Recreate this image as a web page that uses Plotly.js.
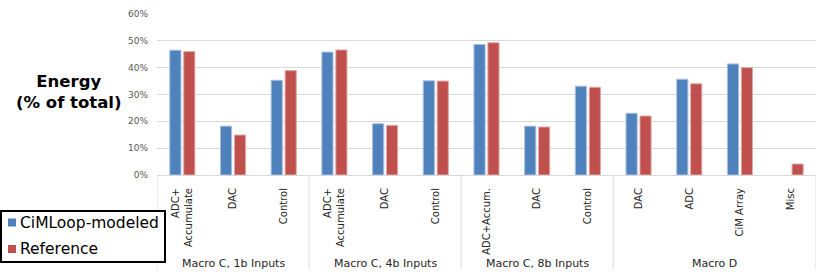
<!DOCTYPE html>
<html><head><meta charset="utf-8">
<script src="https://cdn.plot.ly/plotly-3.0.1.min.js"></script>
<style>html,body{margin:0;padding:0;background:#fff;overflow:hidden}</style>
</head><body><div id="chart" style="width:830px;height:276px"></div>
<script>
// ---- data ----
const categories = ['ADC+<br>Accumulate','DAC','Control','ADC+<br>Accumulate','DAC','Control','ADC+Accum.','DAC','Control','DAC','ADC','CiM Array','Misc'];
const groupNames = ['Macro C, 1b Inputs','Macro C, 4b Inputs','Macro C, 8b Inputs','Macro D'];
const groupSizes = [3,3,3,4];
const cimloopValues   = [46.5,18.2,35.3,45.8,19.1,35.1,48.6,18.2,33.1,23.0,35.7,41.4,null];
const referenceValues = [46.0,14.9,38.9,46.6,18.5,35.0,49.3,17.9,32.7,22.0,34.0,40.0,4.1];
const seriesNames = ['CiMLoop-modeled','Reference'];
const yTickValues = [0,10,20,30,40,50,60];
const yTickLabels = ['0%','10%','20%','30%','40%','50%','60%'];
const yTitleLines = ['Energy','(% of total)'];

// ---- styling ----
const FONT = 'DejaVu Sans, Verdana, sans-serif';
const colors = ['#4f81bd','#c0504d'];
const edgeColors = ['#a7bfde','#e0a8a6'];
const gridColor = '#d9d9d9';

// plot-area geometry (pixels) used to place non-data decorations
const M = {l:157, r:14, t:14, b:101};
const W = 830, H = 276;
const PW = W - M.l - M.r, PH = H - M.t - M.b;
const px = x => (x - M.l) / PW;
const py = y => (H - M.b - y) / PH;

const xIdx = categories.map((_, i) => i);

const traces = [cimloopValues, referenceValues].map((vals, k) => ({
  type: 'bar',
  name: seriesNames[k],
  x: xIdx,
  y: vals,
  marker: {color: colors[k], line: {color: edgeColors[k], width: 1}},
  showlegend: false,
  hoverinfo: 'x+y'
}));

// group boundaries and centres from group sizes
const bounds = [-0.5];
groupSizes.forEach(s => bounds.push(bounds[bounds.length-1] + s));
const centers = groupSizes.map((s, i) => (bounds[i] + bounds[i+1]) / 2);

const shapes = bounds.map(b => ({
  type: 'line', xref: 'x', yref: 'paper',
  x0: b, x1: b, y0: 0, y1: py(269),
  line: {color: gridColor, width: 1}
}));

const annotations = groupNames.map((g, i) => ({
  xref: 'x', yref: 'paper', x: centers[i], y: py(263),
  text: g, showarrow: false, xanchor: 'center', yanchor: 'middle',
  font: {family: FONT, size: 11, color: '#262626'}
}));

// y title (horizontal, bold)
annotations.push({
  xref: 'paper', yref: 'paper', x: px(69), y: py(92),
  text: yTitleLines.join('<br>'), showarrow: false,
  xanchor: 'center', yanchor: 'middle', align: 'center',
  font: {family: FONT, size: 16.5, color: '#000', weight: 'bold'}
});

// custom legend box
shapes.push({
  type: 'rect', xref: 'paper', yref: 'paper',
  x0: px(1), x1: px(165), y0: py(211), y1: py(262),
  line: {color: '#000', width: 2}, fillcolor: '#fff', layer: 'above'
});
const legendRows = [222.5, 249];
seriesNames.forEach((n, k) => {
  const cy = legendRows[k];
  shapes.push({
    type: 'rect', xref: 'paper', yref: 'paper',
    x0: px(8), x1: px(16), y0: py(cy + 4), y1: py(cy - 4),
    line: {width: 0}, fillcolor: colors[k], layer: 'above'
  });
  annotations.push({
    xref: 'paper', yref: 'paper', x: px(18), y: py(cy),
    text: n, showarrow: false, xanchor: 'left', yanchor: 'middle',
    font: {family: FONT, size: 15.5, color: '#000'}
  });
});

const layout = {
  width: W, height: H,
  margin: M,
  paper_bgcolor: '#fff', plot_bgcolor: '#fff',
  barmode: 'group', bargap: 0.45, bargroupgap: 0.2,
  font: {family: FONT},
  xaxis: {
    type: 'linear', range: [-0.5, categories.length - 0.5],
    tickmode: 'array', tickvals: xIdx, ticktext: categories,
    tickangle: -90, ticks: '', showgrid: false, zeroline: false,
    showline: true, linecolor: gridColor, linewidth: 1,
    tickfont: {family: FONT, size: 10, color: '#262626'},
    ticklabelstandoff: 8, fixedrange: true
  },
  yaxis: {
    range: [0, 60], tickmode: 'array', tickvals: yTickValues, ticktext: yTickLabels,
    showgrid: true, gridcolor: gridColor, gridwidth: 1,
    zeroline: false, showline: false, ticks: '',
    tickfont: {family: FONT, size: 9, color: '#595959'},
    ticklabelstandoff: 8, fixedrange: true
  },
  shapes: shapes,
  annotations: annotations
};

Plotly.newPlot('chart', traces, layout, {displayModeBar: false, staticPlot: true});
</script>
</body></html>
